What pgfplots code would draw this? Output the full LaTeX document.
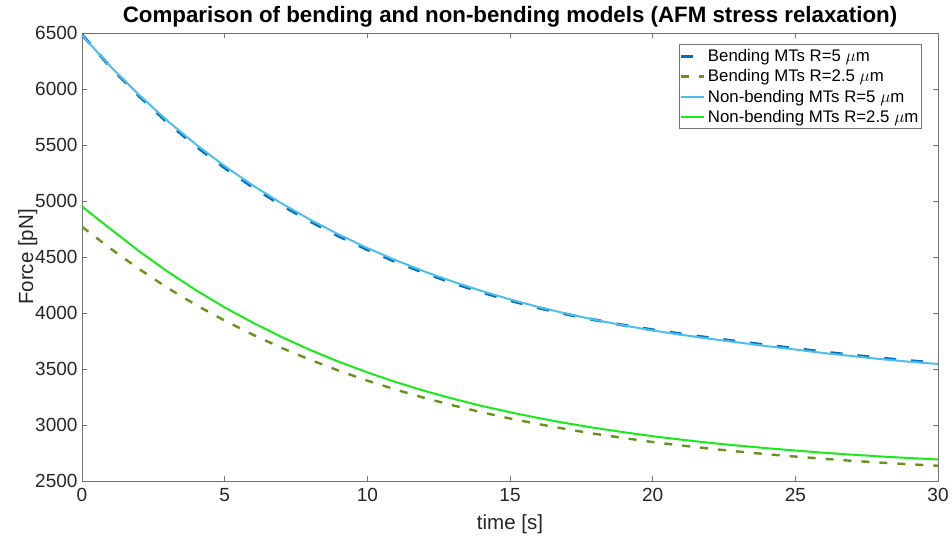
\documentclass[border=0pt]{standalone}
\usepackage{pgfplots}
\pgfplotsset{compat=1.18}
\usepackage{pgfplotstable}
\usepackage{fontspec}
\setmainfont{Liberation Sans}
\definecolor{mblue}{rgb}{0,0.447,0.741}
\definecolor{mlblue}{rgb}{0.302,0.745,0.933}
\definecolor{molive}{rgb}{0.40,0.58,0.10}
\definecolor{mgreen}{rgb}{0.10,0.92,0.10}
\definecolor{axgray}{rgb}{0.45,0.45,0.45}
\definecolor{txt}{rgb}{0.15,0.15,0.15}
\pgfplotstableread{
t B5 B25 NB5 NB25
0 6485 4770 6480 4950
1 6195 4575 6201 4750
2 5937 4393 5947 4552
3 5700 4224 5715 4370
4 5488 4071 5504 4203
5 5296 3932 5312 4050
6 5121 3805 5137 3912
7 4962 3688 4978 3785
8 4818 3582 4833 3670
9 4686 3485 4701 3565
10 4566 3396 4580 3470
11 4457 3316 4471 3383
12 4358 3242 4371 3305
13 4268 3175 4280 3235
14 4186 3114 4197 3171
15 4112 3058 4122 3114
16 4046 3008 4053 3062
17 3988 2962 3993 3015
18 3937 2920 3938 2973
19 3890 2883 3888 2935
20 3850 2848 3844 2900
21 3813 2817 3806 2869
22 3778 2789 3770 2841
23 3745 2763 3737 2816
24 3713 2739 3704 2793
25 3683 2718 3674 2772
26 3652 2698 3642 2752
27 3624 2680 3615 2735
28 3597 2664 3588 2719
29 3574 2649 3565 2705
30 3553 2636 3545 2692
}\data
\begin{document}
\begin{tikzpicture}
\useasboundingbox (-82pt,-57pt) rectangle (870pt,481pt);
\begin{axis}[
  at={(0,0)}, anchor=south west,
  scale only axis, width=856pt, height=448pt,
  xmin=0, xmax=30, ymin=2500, ymax=6500,
  xtick={0,5,...,30}, ytick={2500,3000,...,6500},
  tick align=inside, xtick pos=both, ytick pos=both,
  major tick length=5pt,
  axis line style={axgray, line width=0.6pt},
  tick style={axgray, line width=0.6pt},
  /pgf/number format/assume math mode=true,
  /pgf/number format/1000 sep={},
  ticklabel style={font=\fontsize{19}{22}\selectfont, text=txt},
  xticklabel style={yshift=-4pt},
  yticklabel style={xshift=-1pt},
  xlabel={time [s]}, ylabel={Force [pN]},
  label style={font=\fontsize{20.5}{24}\selectfont, text=txt},
  xlabel style={yshift=-6pt},
  ylabel style={yshift=-9pt},
  title={\textbf{Comparison of bending and non-bending models (AFM stress relaxation)}},
  title style={font=\fontsize{22.3}{26}\selectfont, at={(0.5,1)}, anchor=south, yshift=-4pt},
  legend style={at={(0.981,0.975)}, anchor=north east, draw=axgray, line width=0.6pt,
     font=\fontsize{16.8}{19}\selectfont, inner xsep=1pt, inner ysep=3pt,
     row sep=2.5pt, cells={anchor=west, inner xsep=1.5pt}},
  legend image code/.code={\draw[#1] (0pt,0pt) -- (23pt,0pt);},
  legend cell align=left,
]
\addplot[mblue, line width=3pt, dash pattern=on 12pt off 15pt] table[x=t,y=B5]{\data};
\addlegendentry{Bending MTs R=5 $\mu$m}
\addplot[molive, line width=2.4pt, dash pattern=on 8pt off 10pt] table[x=t,y=B25]{\data};
\addlegendentry{Bending MTs R=2.5 $\mu$m}
\addplot[mlblue, line width=2pt] table[x=t,y=NB5]{\data};
\addlegendentry{Non-bending MTs R=5 $\mu$m}
\addplot[mgreen, line width=2pt] table[x=t,y=NB25]{\data};
\addlegendentry{Non-bending MTs R=2.5 $\mu$m}
\end{axis}
\end{tikzpicture}
\end{document}
